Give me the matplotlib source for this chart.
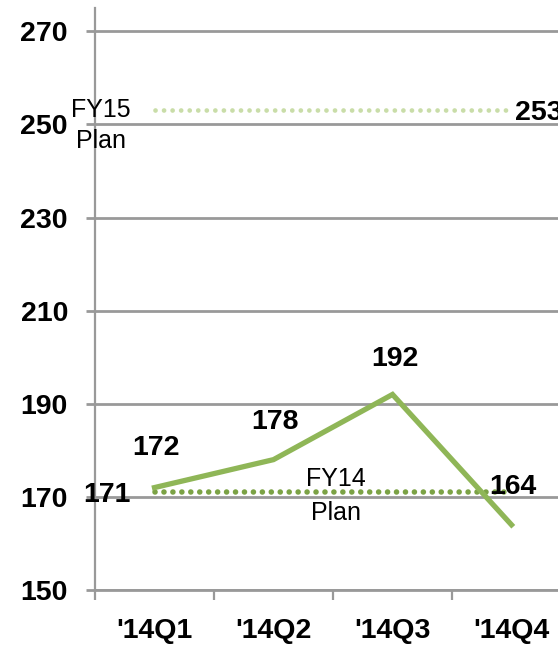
import matplotlib.pyplot as plt

quarters = ["'14Q1", "'14Q2", "'14Q3", "'14Q4"]
actual = [172, 178, 192, 164]
fy14_plan = [171, 171, 171, 171]
fy15_plan = [253, 253, 253, 253]
y_ticks = [150, 170, 190, 210, 230, 250, 270]

green = '#8FB657'
grid_col = '#999999'
num_font = 'Liberation Sans'

fig = plt.figure(figsize=(5.58, 6.46), dpi=100)
ax = fig.add_axes([95 / 558, 56 / 646, 476 / 558, 582 / 646])

x = list(range(len(quarters)))

ax.plot(x, fy15_plan, linestyle=(0, (0.01, 1.8)), color='#C9DDA8', lw=3.4,
        dash_capstyle='round', zorder=3)
ax.plot(x, fy14_plan, linestyle=(0, (0.01, 1.6)), color='#7BA245', lw=4.0,
        dash_capstyle='round', zorder=3)
ax.plot(x, actual, color=green, lw=3.8, solid_joinstyle='miter', zorder=4)

ax.set_xlim(-0.5, 3.5)
ax.set_ylim(150, 275)
ax.set_yticks(y_ticks)
ax.set_xticks(x)
ax.set_xticklabels(quarters)
ax.set_xticks([-0.5, 0.5, 1.5, 2.5], minor=True)
ax.grid(axis='y', color=grid_col, lw=2.0)
ax.set_axisbelow(True)

for s in ['top', 'right']:
    ax.spines[s].set_visible(False)
ax.spines['left'].set_color(grid_col)
ax.spines['left'].set_linewidth(1.6)
ax.spines['bottom'].set_color(grid_col)
ax.spines['bottom'].set_linewidth(2.0)

ax.tick_params(axis='y', length=6.5, width=2.0, color=grid_col, pad=13)
ax.tick_params(axis='x', which='major', length=0, pad=20)
ax.tick_params(axis='x', which='minor', length=7, width=1.6, color=grid_col)
for lab in ax.get_xticklabels() + ax.get_yticklabels():
    lab.set_fontweight('bold')
    lab.set_fontfamily(num_font)
    lab.set_fontsize(20.5)

num_kw = dict(ha='center', va='center', fontsize=20.5, fontweight='bold',
              family=num_font, clip_on=False, zorder=5)

# value labels on the actual line
ax.text(0.01, 180.4, str(actual[0]), **num_kw)
ax.text(1.01, 186.0, str(actual[1]), **num_kw)
ax.text(2.02, 199.7, str(actual[2]), **num_kw)
ax.text(3.01, 172.1, str(actual[3]), **num_kw)

# plan labels
ax.text(-0.4, 170.4, str(fy14_plan[0]), **num_kw)
ax.text(3.03, 252.4, str(fy15_plan[0]), **{**num_kw, 'ha': 'left'})

plan_kw = dict(ha='center', va='center', fontsize=18, family='Liberation Sans',
               clip_on=False, zorder=5)
ax.text(1.525, 170.2, 'FY14\nPlan', linespacing=1.5, **plan_kw)
ax.text(-0.45, 249.8, 'FY15\nPlan', linespacing=1.4, **plan_kw)

fig.savefig('out.png', dpi=100)
plt.close()
